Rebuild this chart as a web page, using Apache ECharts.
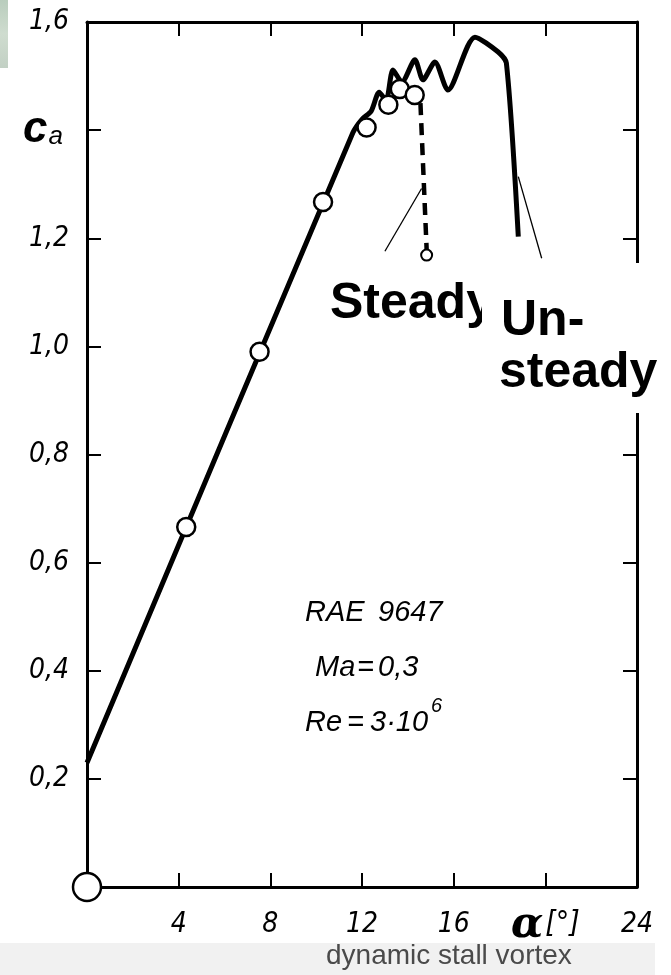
<!DOCTYPE html>
<html><head><meta charset="utf-8">
<script src="https://cdn.jsdelivr.net/npm/echarts@6/dist/echarts.min.js"></script>
<style>html,body{margin:0;padding:0;background:#fff}#c{width:671px;height:975px}</style>
</head><body><div id="c"></div>
<script>
// ---- data ----
const xTicks = [0, 4, 8, 12, 16, 20, 24];
const yTicks = [0, 0.2, 0.4, 0.6, 0.8, 1.0, 1.2, 1.4, 1.6];
const unsteadyAlpha = [0, 11.6, 12.0, 12.4, 12.75, 13.05, 13.35, 13.74, 14.31, 14.66, 15.18, 15.75, 16.93, 17.93, 18.3, 18.82];
const unsteadyCa    = [0.23, 1.395, 1.42, 1.435, 1.47, 1.455, 1.511, 1.489, 1.53, 1.493, 1.526, 1.474, 1.572, 1.545, 1.524, 1.203];
const steadyAlpha = [4.33, 7.53, 10.3, 12.2, 13.15, 13.65, 14.3];
const steadyCa    = [0.666, 0.99, 1.267, 1.405, 1.447, 1.476, 1.465];
const steadyDropAlpha = [14.55, 14.82];
const steadyDropCa    = [1.45, 1.18];
const originPoint = [[0, 0]];
const steadyLeader   = [[13.0, 1.176], [14.6, 1.292]];
const unsteadyLeader = [[18.82, 1.314], [19.84, 1.163]];

const zip = (a, b) => a.map((v, i) => [v, b[i]]);
const chart = echarts.init(document.getElementById('c'), null, {renderer: 'canvas'});

const tickFont = "'Liberation Sans Narrow','DejaVu Sans Condensed','Liberation Sans',sans-serif";
const axisCommon = {
  type: 'value',
  splitLine: {show: false},
  axisLine: {show: true, onZero: false, lineStyle: {color: '#000', width: 3}},
  axisTick: {show: true, inside: true, length: 14, lineStyle: {color: '#000', width: 2}},
};
const noteFont = "italic 29px 'Liberation Sans', Arial, sans-serif";
const bigFont = "bold 50px 'Liberation Sans', Arial, sans-serif";

chart.setOption({
  animation: false,
  backgroundColor: '#fff',
  grid: {left: 87, right: 34, top: 22, bottom: 88, containLabel: false},
  xAxis: [
    Object.assign({}, axisCommon, {
      min: 0, max: 24, interval: 4, position: 'bottom',
      axisLabel: {
        margin: 24, color: '#000', fontSize: 28, fontStyle: 'italic', fontFamily: tickFont,
        formatter: v => v === 0 ? '' : (v === 20 ? '{a|α}{b|[°]}' : String(v)),
        rich: {
          a: {fontSize: 42, lineHeight: 30, fontFamily: "'DejaVu Serif',serif", fontStyle: 'italic', fontWeight: 'bold', color: '#000'},
          b: {fontSize: 30, lineHeight: 30, fontFamily: tickFont, fontStyle: 'italic', color: '#000', padding: [0, 0, 4, 2]}
        }
      }
    }),
    Object.assign({}, axisCommon, {
      min: 0, max: 24, interval: 4, position: 'top', axisLabel: {show: false}
    })
  ],
  yAxis: [
    Object.assign({}, axisCommon, {
      min: 0, max: 1.6, interval: 0.2, position: 'left',
      axisLabel: {
        margin: 18, color: '#000', fontSize: 28, fontStyle: 'italic', fontFamily: tickFont,
        formatter: v => {
          const r = Math.round(v * 10) / 10;
          if (r === 0) return '';
          if (r === 1.4) return '{c|c}{s|a}';
          return r.toFixed(1).replace('.', ',');
        },
        rich: {
          c: {fontSize: 44, fontWeight: 'bold', fontFamily: "'Liberation Sans',sans-serif", color: '#000'},
          s: {fontSize: 26, fontStyle: 'italic', fontFamily: "'Liberation Sans',sans-serif", color: '#000', padding: [14, 6, 0, 1]}
        }
      }
    }),
    Object.assign({}, axisCommon, {
      min: 0, max: 1.6, interval: 0.2, position: 'right', axisLabel: {show: false}
    })
  ],
  series: [
    {
      type: 'line', name: 'unsteady', data: zip(unsteadyAlpha, unsteadyCa),
      symbol: 'none', smooth: 0.25, lineStyle: {color: '#000', width: 5}, z: 3
    },
    {
      type: 'line', name: 'steadyDrop', data: zip(steadyDropAlpha, steadyDropCa),
      symbol: 'none', lineStyle: {color: '#000', width: 4.5, type: [12, 8]}, z: 3
    },
    {
      type: 'scatter', name: 'steadyEnd', data: [zip(steadyDropAlpha, steadyDropCa)[1]],
      symbol: 'circle', symbolSize: 11, symbolOffset: [0, 6],
      itemStyle: {color: '#fff', borderColor: '#000', borderWidth: 2, opacity: 1}, z: 2
    },
    {
      type: 'scatter', name: 'steady', data: zip(steadyAlpha, steadyCa),
      symbol: 'circle', symbolSize: 18,
      itemStyle: {color: '#fff', borderColor: '#000', borderWidth: 2.5, opacity: 1}, z: 5
    },
    {
      type: 'scatter', name: 'origin', data: originPoint,
      symbol: 'circle', symbolSize: 28,
      itemStyle: {color: '#fff', borderColor: '#000', borderWidth: 2.5, opacity: 1}, z: 6
    },
    {
      type: 'line', name: 'leaderSteady', data: steadyLeader,
      symbol: 'none', lineStyle: {color: '#000', width: 1.3}, z: 2
    },
    {
      type: 'line', name: 'leaderUnsteady', data: unsteadyLeader,
      symbol: 'none', lineStyle: {color: '#000', width: 1.3}, z: 2
    }
  ],
  graphic: [
    {type: 'rect', left: 0, top: 0, z: 10, shape: {width: 8, height: 68},
     style: {fill: new echarts.graphic.LinearGradient(0, 0, 0, 1, [{offset: 0, color: '#b9cdbd'}, {offset: 0.5, color: '#cfdccf'}, {offset: 1, color: '#c2d0c4'}])}},
    {type: 'text', left: 330, top: 279, z: 20, style: {text: 'Steady', font: bigFont, fill: '#000'}},
    {type: 'rect', left: 482, top: 263, z: 21, shape: {width: 189, height: 150}, style: {fill: '#fff'}},
    {type: 'text', left: 501, top: 296, z: 22, style: {text: 'Un-', font: bigFont, fill: '#000'}},
    {type: 'text', left: 499, top: 348, z: 22, style: {text: 'steady', font: bigFont, fill: '#000'}},
    {type: 'text', left: 305, top: 598, z: 20, style: {text: 'RAE', font: noteFont, fill: '#000'}},
    {type: 'text', left: 378, top: 598, z: 20, style: {text: '9647', font: noteFont, fill: '#000'}},
    {type: 'text', left: 315, top: 653, z: 20, style: {text: 'Ma', font: noteFont, fill: '#000'}},
    {type: 'text', left: 357, top: 653, z: 20, style: {text: '=', font: noteFont, fill: '#000'}},
    {type: 'text', left: 378, top: 653, z: 20, style: {text: '0,3', font: noteFont, fill: '#000'}},
    {type: 'text', left: 305, top: 708, z: 20, style: {text: 'Re', font: noteFont, fill: '#000'}},
    {type: 'text', left: 347, top: 708, z: 20, style: {text: '=', font: noteFont, fill: '#000'}},
    {type: 'text', left: 370, top: 708, z: 20, style: {text: '3·10', font: noteFont, fill: '#000'}},
    {type: 'text', left: 431, top: 696, z: 20, style: {text: '6', font: "italic 20px 'Liberation Sans', Arial, sans-serif", fill: '#000'}},
    {type: 'rect', left: 0, top: 943, z: 1, shape: {width: 655, height: 32}, style: {fill: '#f1f1f1'}},
    {type: 'text', left: 326, top: 942, z: 20,
     style: {text: 'dynamic stall vortex', font: "28px 'Liberation Sans', Arial, sans-serif", fill: '#4a4a4a'}}
  ]
});
</script></body></html>
